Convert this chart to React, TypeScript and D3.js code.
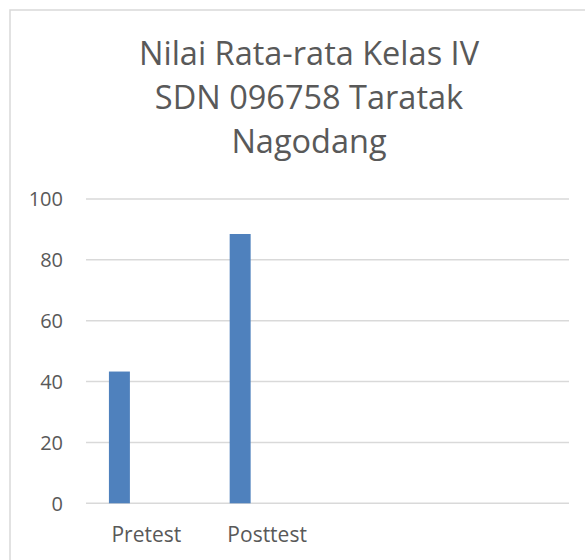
import React from "react";
import * as d3 from "d3";

const titleLines = ["Nilai Rata-rata Kelas IV", "SDN 096758 Taratak", "Nagodang"];
const categories = ["Pretest", "Posttest", "", ""];
const seriesNames = ["Series 1", "Series 2", "Series 3"];
const series1 = [43.3, 88.5, null, null];
const series2 = [null, null, null, null];
const series3 = [null, null, null, null];
const yTicks = [0, 20, 40, 60, 80, 100];

const W = 585;
const H = 560;
const FONT = "'Open Sans', 'DejaVu Sans', sans-serif";
const TEXT = "#595959";
const GRID = "#d9d9d9";
const BAR = "#4f81bd";

export default function App() {
  const margin = { top: 199, right: 16, bottom: 57, left: 86 };
  const plotRight = W - margin.right;
  const plotBottom = H - margin.bottom + 0.3;

  const x = d3
    .scaleBand<number>()
    .domain(d3.range(categories.length))
    .range([margin.left, plotRight])
    .padding(0);

  // clustered bars inside each category
  const xs = d3
    .scaleBand<string>()
    .domain(seriesNames)
    .range([0, x.bandwidth()])
    .paddingInner(0.222)
    .paddingOuter(0.85);

  const y = d3.scaleLinear().domain([0, 100]).range([plotBottom, margin.top]);

  const allSeries = [series1, series2, series3];

  return (
    <div style={{ position: "fixed", left: 0, top: 0 }}>
      <svg width={W} height={H} style={{ display: "block", background: "#fff" }}>
        {/* chart border */}
        <rect x={10} y={10} width={W} height={H} fill="none" stroke={GRID} strokeWidth={1.5} />

        {/* title */}
        {titleLines.map((t, i) => (
          <text
            key={i}
            x={309}
            y={65 + i * 44}
            textAnchor="middle"
            fill={TEXT}
            fontFamily={FONT}
            fontSize={32.5}
          >
            {t}
          </text>
        ))}

        {/* gridlines */}
        {yTicks.map((t) => (
          <line
            key={t}
            x1={margin.left}
            x2={plotRight}
            y1={y(t)}
            y2={y(t)}
            stroke={GRID}
            strokeWidth={1.5}
          />
        ))}

        {/* y tick labels */}
        {yTicks.map((t) => (
          <text
            key={"l" + t}
            x={63}
            y={y(t)}
            dy="0.36em"
            textAnchor="end"
            fill={TEXT}
            fontFamily={FONT}
            fontSize={20}
          >
            {t}
          </text>
        ))}

        {/* bars */}
        {allSeries.map((vals, si) =>
          vals.map((v, ci) =>
            v == null ? null : (
              <rect
                key={si + "-" + ci}
                x={(x(ci) as number) + (xs(seriesNames[si]) as number)}
                y={y(v)}
                width={xs.bandwidth()}
                height={y(0) - y(v)}
                fill={BAR}
              />
            )
          )
        )}

        {/* x labels */}
        {categories.map((c, i) => (
          <text
            key={"c" + i}
            x={(x(i) as number) + x.bandwidth() / 2}
            y={542}
            textAnchor="middle"
            fill={TEXT}
            fontFamily={FONT}
            fontSize={21}
          >
            {c}
          </text>
        ))}
      </svg>
    </div>
  );
}
